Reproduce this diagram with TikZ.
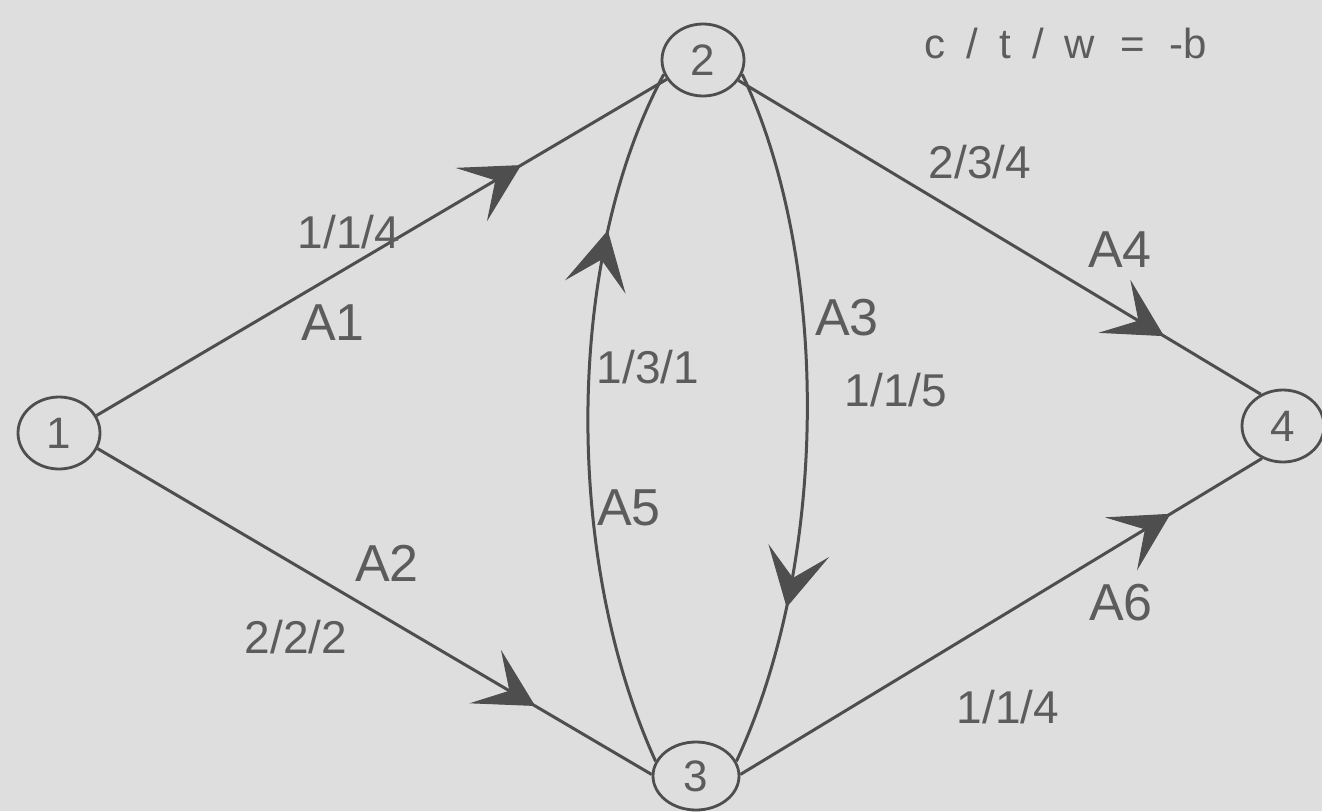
\documentclass[tikz,border=0pt]{standalone}
\usepackage{fontspec}
\setmainfont{Liberation Sans}
\usetikzlibrary{arrows.meta,decorations.markings,shapes.geometric}
\definecolor{bgc}{HTML}{DEDEDE}
\definecolor{linec}{HTML}{4E4E4E}
\definecolor{txtc}{HTML}{5C5C5C}
\tikzset{
  vert/.style={ellipse, draw=linec, line width=2.8pt, minimum width=82pt, minimum height=72pt, inner sep=0pt, text=txtc, font=\fontsize{44}{44}\selectfont},
  edge/.style={draw=linec, line width=3pt},
  midarrow/.style={postaction={decorate}, decoration={markings, mark=at position #1 with {\arrow{Stealth[length=58pt, width=62pt, inset=28pt, line width=1pt]}}}},
  lab/.style={text=txtc, font=\fontsize{46}{46}\selectfont, inner sep=0pt},
  alab/.style={text=txtc, font=\fontsize{52}{52}\selectfont, inner sep=0pt},
}
\begin{document}
\begin{tikzpicture}[x=1pt, y=-1pt]
\useasboundingbox (0,0) rectangle (1322,811);
\fill[bgc] (0,0) rectangle (1322,811);
\node[vert] (n1) at (59,433) {1};
\node[vert] (n2) at (703,60) {2};
\node[vert, minimum width=86pt, minimum height=68pt] (n3) at (696,776) {3};
\node[vert] (n4) at (1283,426) {4};
\draw[edge, midarrow=0.745] (n1.25) -- (n2.208);
\draw[edge, midarrow=0.79] (n1.-22) -- (n3.178);
\draw[edge, midarrow=0.815] (n2.-30) -- (n4.125);
\draw[edge, midarrow=0.825] (n3.2) -- (n4.237);
\draw[edge, midarrow=0.765] (n3.160) .. controls (564,560) and (564,260) .. (n2.200);
\draw[edge, midarrow=0.77] (n2.340) .. controls (830,260) and (830,560) .. (n3.20);
\node[lab] (l1) at (349,232) {1/1/4};
\node[alab] (a1) at (333,323) {A1};
\node[alab] (a2) at (387,563) {A2};
\node[lab] (l2) at (296,637) {2/2/2};
\node[lab] (l4) at (980,162) {2/3/4};
\node[alab] (a4) at (1120,250) {A4};
\node[alab] (a6) at (1121,603) {A6};
\node[lab] (l6) at (1008,707) {1/1/4};
\node[lab] (l5) at (648,367) {1/3/1};
\node[alab] (a5) at (629,508) {A5};
\node[alab] (a3) at (847,318) {A3};
\node[lab] (l3) at (896,390) {1/1/5};
\node[text=txtc, font=\fontsize{42}{42}\selectfont, inner sep=0pt] (key) at (1066,43) {c\hspace{.5em}/\hspace{.5em}t\hspace{.5em}/\hspace{.5em}w\hspace{.6em}=\hspace{.6em}-b};
\end{tikzpicture}
\end{document}
